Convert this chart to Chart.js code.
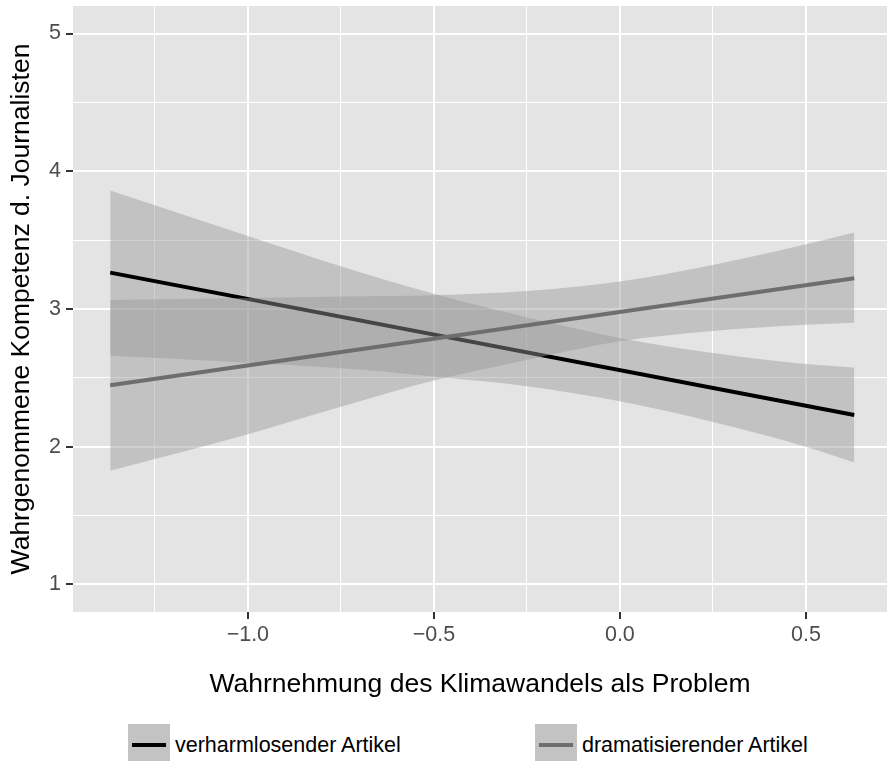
<!DOCTYPE html>
<html>
<head>
<meta charset="utf-8">
<script src="https://cdn.jsdelivr.net/npm/chart.js@4.4.1/dist/chart.umd.min.js"></script>
<style>
  body { margin: 0; background: #fff; font-family: "Liberation Sans", Arial, sans-serif; }
  #wrap { position: relative; width: 887px; height: 761px; overflow: hidden; }
  #chart { position: absolute; left: 0; top: 0; }
  .item { position: absolute; top: 724px; height: 42px; display: flex; align-items: center; font-size: 21.5px; color: #000; white-space: nowrap; }
  .key { position: relative; width: 42px; height: 42px; background: #c3c3c3; margin-right: 5px; }
  .key span { position: absolute; left: 4px; right: 4px; top: 19px; height: 4px; }
</style>
</head>
<body>
<div id="wrap">
  <canvas id="chart" width="887" height="710"></canvas>
  <div id="legend"></div>
</div>
<script>
// regression ribbons, read at these x positions
const xCI = [-1.37, -1.0, -0.75, -0.5, -0.25, 0, 0.25, 0.5, 0.63]
const verUpper = [3.86, 3.53, 3.31, 3.11, 2.94, 2.79, 2.68, 2.60, 2.575]
const verLower = [2.66, 2.61, 2.57, 2.51, 2.44, 2.33, 2.18, 2.00, 1.885]
const dramUpper = [3.065, 3.08, 3.09, 3.10, 3.13, 3.20, 3.32, 3.47, 3.555]
const dramLower = [1.825, 2.09, 2.29, 2.48, 2.63, 2.765, 2.84, 2.885, 2.90]

// fitted lines (start / end)
const xLine = [-1.37, 0.63]
const verLine = [3.264, 2.230]
const dramLine = [2.446, 3.224]

const seriesNames = ['verharmlosender Artikel', 'dramatisierender Artikel']
const lineColors = ['#000000', '#6e6e6e']

const xMajor = [-1.0, -0.5, 0.0, 0.5]
const xMinor = [-1.25, -0.75, -0.25, 0.25]
const yMajor = [1, 2, 3, 4, 5]
const yMinor = [1.5, 2.5, 3.5, 4.5]
const xMin = -1.47, xMax = 0.718
const yMin = 0.8, yMax = 5.2

const ribbonFill = 'rgba(153,153,153,0.45)'
const toPts = (xs, ys) => xs.map((x, i) => ({ x: x, y: ys[i] }))
const fmtNum = v => (v < 0 ? '\u2212' : '') + Math.abs(v).toFixed(1)

const panelBg = {
  id: 'panelBg',
  beforeDraw(chart) {
    const { ctx, chartArea: a } = chart
    ctx.save()
    ctx.fillStyle = '#e4e4e4'
    ctx.fillRect(a.left, a.top, a.right - a.left, a.bottom - a.top)
    ctx.restore()
  }
}

const hidden = { borderWidth: 0, pointRadius: 0, fill: false }
const lineStyle = { pointRadius: 0, fill: false, borderWidth: 4, borderCapStyle: 'butt' }

function gridFor(major, minor, lo, hi) {
  return [lo].concat(major, minor, [hi]).sort((a, b) => a - b)
}

// no extra room for labels sticking out of the axis ends
function noPad(s) {
  s.paddingTop = 0; s.paddingBottom = 0; s.paddingLeft = 0; s.paddingRight = 0
}

new Chart(document.getElementById('chart'), {
  type: 'line',
  data: {
    datasets: [
      Object.assign({ label: 'lower1', data: toPts(xCI, verLower), order: 6, cubicInterpolationMode: 'monotone' }, hidden),
      { label: 'upper1', data: toPts(xCI, verUpper), order: 5, borderWidth: 0, pointRadius: 0,
        backgroundColor: ribbonFill, fill: '-1', cubicInterpolationMode: 'monotone' },
      Object.assign({ label: seriesNames[0], data: toPts(xLine, verLine), order: 4, borderColor: lineColors[0] }, lineStyle),
      Object.assign({ label: 'lower2', data: toPts(xCI, dramLower), order: 3, cubicInterpolationMode: 'monotone' }, hidden),
      { label: 'upper2', data: toPts(xCI, dramUpper), order: 2, borderWidth: 0, pointRadius: 0,
        backgroundColor: ribbonFill, fill: '-1', cubicInterpolationMode: 'monotone' },
      Object.assign({ label: seriesNames[1], data: toPts(xLine, dramLine), order: 1, borderColor: lineColors[1] }, lineStyle)
    ]
  },
  options: {
    responsive: false,
    animation: false,
    events: [],
    layout: { padding: { top: 6, left: 0, right: 0, bottom: 0 } },
    plugins: { legend: { display: false }, tooltip: { enabled: false } },
    scales: {
      x: {
        type: 'linear', min: xMin, max: xMax,
        afterBuildTicks: s => { s.ticks = gridFor(xMajor, xMinor, xMin, xMax).map(v => ({ value: v })) },
        afterFit: s => { s.height = 98; noPad(s) },
        border: { display: false },
        grid: {
          color: '#ffffff',
          lineWidth: c => xMajor.includes(c.tick.value) ? 2 : (xMinor.includes(c.tick.value) ? 1 : 0),
          tickColor: c => xMajor.includes(c.tick.value) ? '#333333' : 'rgba(0,0,0,0)',
          tickLength: 7, tickWidth: 2
        },
        ticks: {
          autoSkip: false, maxRotation: 0, padding: 3, color: '#4d4d4d',
          font: { family: 'Liberation Sans', size: 21.5 },
          callback: v => xMajor.includes(v) ? fmtNum(v) : ''
        },
        title: {
          display: true, text: 'Wahrnehmung des Klimawandels als Problem', color: '#000',
          font: { family: 'Liberation Sans', size: 26.5 }, padding: { top: 0, bottom: 9 }
        }
      },
      y: {
        type: 'linear', min: yMin, max: yMax,
        afterBuildTicks: s => { s.ticks = gridFor(yMajor, yMinor, yMin, yMax).map(v => ({ value: v })) },
        afterFit: s => { s.width = 73; noPad(s) },
        border: { display: false },
        grid: {
          color: '#ffffff',
          lineWidth: c => yMajor.includes(c.tick.value) ? 2 : (yMinor.includes(c.tick.value) ? 1 : 0),
          tickColor: c => yMajor.includes(c.tick.value) ? '#333333' : 'rgba(0,0,0,0)',
          tickLength: 7, tickWidth: 2
        },
        ticks: {
          autoSkip: false, padding: 5, color: '#4d4d4d',
          font: { family: 'Liberation Sans', size: 21.5 },
          callback: v => yMajor.includes(v) ? String(v) : ''
        },
        title: {
          display: true, text: 'Wahrgenommene Kompetenz d. Journalisten', color: '#000',
          font: { family: 'Liberation Sans', size: 26.5 }, padding: { top: 6, bottom: 0 }
        }
      }
    }
  },
  plugins: [panelBg]
})

// legend below the plot
const legendLeft = [128, 535]
const legendEl = document.getElementById('legend')
seriesNames.forEach((name, i) => {
  const item = document.createElement('div')
  item.className = 'item'
  item.style.left = legendLeft[i] + 'px'
  item.innerHTML = '<div class="key"><span style="background:' + lineColors[i] + '"></span></div>'
  item.appendChild(document.createTextNode(name))
  legendEl.appendChild(item)
})
</script>
</body>
</html>
